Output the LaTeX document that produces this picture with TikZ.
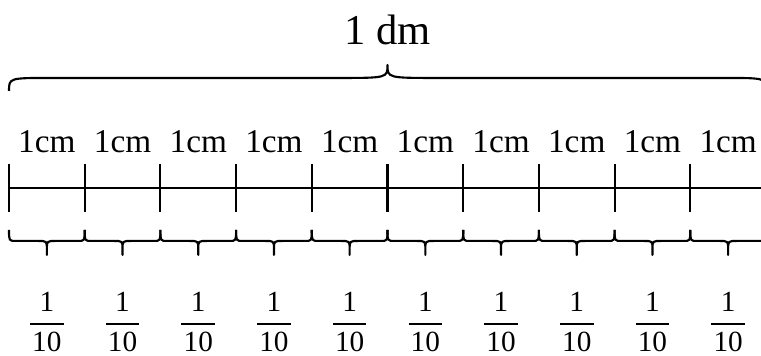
\documentclass[tikz,border=0pt]{standalone}
\usepackage{fontspec}
\usepackage{amsmath}
\setmainfont{Liberation Serif}

\begin{document}
\begin{tikzpicture}[line width=0.8pt,
    bracepath/.style={line join=round},
    cmlabel/.style={font=\fontsize{12.5}{14}\selectfont,anchor=base,inner sep=0pt},
    fraclabel/.style={font=\fontsize{11}{13}\selectfont,inner sep=0pt}]
    \useasboundingbox (-0.119,-2.219) rectangle (9.934,2.483);

    \coordinate (start) at (0,0);
    \coordinate (end) at (10,0);
    \draw (start) -- (end);

    \foreach \i in {0,...,9}{
        \draw (\i,0.32) -- (\i,-0.32);
        \draw[bracepath] (\i,-0.555) .. controls (\i,-0.70) .. (\i+0.09,-0.70)
            -- (\i+0.38,-0.70) .. controls (\i+0.5,-0.70) .. (\i+0.5,-0.81) -- (\i+0.5,-0.885)
            -- (\i+0.5,-0.81) .. controls (\i+0.5,-0.70) .. (\i+0.62,-0.70)
            -- (\i+0.91,-0.70) .. controls (\i+1,-0.70) .. (\i+1,-0.555);
        \node[cmlabel] (cm\i) at (\i+0.5,0.462) {1cm};
        \node[fraclabel] (frac\i) at (\i+0.5,-1.77)
            {$\dfrac{\text{1}}{\hspace{0.8pt}\text{10}\hspace{0.8pt}}$};
    }

    \draw[bracepath] (0,1.281) .. controls (0,1.453) .. (0.55,1.453)
        -- (4.34,1.453) .. controls (5,1.453) .. (5,1.625)
        .. controls (5,1.453) .. (5.66,1.453)
        -- (9.45,1.453) .. controls (10,1.453) .. (10,1.281);
    \node[font=\fontsize{16}{19}\selectfont,anchor=base,inner sep=0pt] (dm) at (5,1.889) {1 dm};
\end{tikzpicture}
\end{document}
